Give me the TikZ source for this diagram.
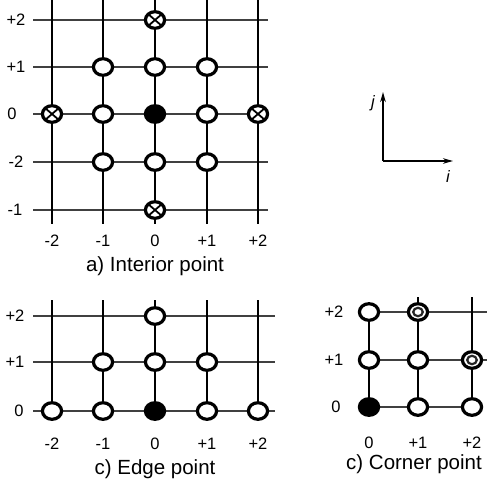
\documentclass[tikz,border=0pt]{standalone}
\usepackage{fontspec}
\setmainfont{Liberation Sans}
\usetikzlibrary{shapes.geometric,arrows.meta}
\tikzset{
  vline/.style={line width=2.1pt,black},
  hline/.style={line width=1.4pt,black!75},
  ocirc/.style={ellipse,draw,line width=3.2pt,fill=white,minimum width=19.2pt,minimum height=16.6pt,inner sep=0pt},
  fcirc/.style={ocirc,fill=black},
  xcirc/.style={ocirc,path picture={
     \draw[line width=1.8pt] (path picture bounding box.north west) -- (path picture bounding box.south east)
       (path picture bounding box.north east) -- (path picture bounding box.south west);}},
  rcirc/.style={ocirc,path picture={
     \draw[line width=2.2pt,black!85] (path picture bounding box.center) ellipse (4.8pt and 4.2pt);}},
  lab/.style={font=\fontsize{16.5}{18}\selectfont,inner sep=0pt},
  captext/.style={font=\fontsize{20.5}{24}\selectfont,inner sep=0pt,anchor=base},
  axarrow/.style={line width=2.2pt,-{Stealth[length=10pt,width=5.5pt]}},
}
\begin{document}
\begin{tikzpicture}[x=1pt,y=-1pt]
\useasboundingbox (0,0) rectangle (487,487);
% ---------- panel a ----------
\foreach \y in {20,67,114,162,210} \draw[hline] (33,\y) -- (268,\y);
\foreach \x in {52,103,155,207,258} \draw[vline] (\x,0) -- (\x,224);
\node[xcirc] (a02) at (155,20) {};
\node[ocirc] (am11) at (103,67) {};
\node[ocirc] (a01) at (155,67) {};
\node[ocirc] (ap11) at (207,67) {};
\node[xcirc] (am20) at (52,114) {};
\node[ocirc] (am10) at (103,114) {};
\node[fcirc] (a00) at (155,114) {};
\node[ocirc] (ap10) at (207,114) {};
\node[xcirc] (ap20) at (258,114) {};
\node[ocirc] (am1m2) at (103,162) {};
\node[ocirc] (a0m2) at (155,162) {};
\node[ocirc] (ap1m2) at (207,162) {};
\node[xcirc] (a0m1) at (155,210) {};
\node[lab] (ar1) at (16,20) {+2};
\node[lab] (ar2) at (16,67) {+1};
\node[lab] (ar3) at (12,114) {0};
\node[lab] (ar4) at (16,162) {-2};
\node[lab] (ar5) at (15,210) {-1};
\node[lab] (ac1) at (52,241) {-2};
\node[lab] (ac2) at (103,241) {-1};
\node[lab] (ac3) at (155,241) {0};
\node[lab] (ac4) at (207,241) {+1};
\node[lab] (ac5) at (258,241) {+2};
\node[captext] (acap) at (155,271) {a) Interior point};
% ---------- axes ----------
\coordinate (o) at (383,161);
\coordinate (jt) at (383,92);
\coordinate (it) at (453,161);
\draw[axarrow] (o) -- (jt);
\draw[axarrow] (o) -- (it);
\node[lab,font=\fontsize{16.5}{18}\selectfont\itshape] (jl) at (373,103) {j};
\node[lab,font=\fontsize{16.5}{18}\selectfont\itshape] (il) at (448,177) {i};
% ---------- edge panel ----------
\foreach \y in {316,362,411} \draw[hline] (33,\y) -- (275,\y);
\foreach \x in {52,103,155,207,258} \draw[vline] (\x,300) -- (\x,411);
\node[ocirc] (e02) at (155,316) {};
\node[ocirc] (em11) at (103,362) {};
\node[ocirc] (e01) at (155,362) {};
\node[ocirc] (ep11) at (207,362) {};
\node[ocirc] (em20) at (52,411) {};
\node[ocirc] (em10) at (103,411) {};
\node[fcirc] (e00) at (155,411) {};
\node[ocirc] (ep10) at (207,411) {};
\node[ocirc] (ep20) at (258,411) {};
\node[lab] (er1) at (15,316) {+2};
\node[lab] (er2) at (15,362) {+1};
\node[lab] (er3) at (19,411) {0};
\node[lab] (ec1) at (52,444) {-2};
\node[lab] (ec2) at (103,444) {-1};
\node[lab] (ec3) at (155,444) {0};
\node[lab] (ec4) at (207,444) {+1};
\node[lab] (ec5) at (258,444) {+2};
\node[captext] (ecap) at (155,474) {c) Edge point};
% ---------- corner panel ----------
\draw[hline] (369,312) -- (487,312);
\draw[hline] (369,360) -- (487,360);
\draw[hline] (369,407) -- (472,407);
\draw[vline] (369,312) -- (369,407);
\draw[vline] (418,297) -- (418,407);
\draw[vline] (472,297) -- (472,407);
\node[ocirc] (c02) at (369,312) {};
\node[rcirc] (c12) at (418,312) {};
\node[ocirc] (c01) at (369,360) {};
\node[ocirc] (c11) at (418,360) {};
\node[rcirc] (c21) at (472,360) {};
\node[fcirc] (c00) at (369,407) {};
\node[ocirc] (c10) at (418,407) {};
\node[ocirc] (c20) at (472,407) {};
\node[lab] (cr1) at (334,312) {+2};
\node[lab] (cr2) at (334,360) {+1};
\node[lab] (cr3) at (336,407) {0};
\node[lab] (cc1) at (369,443) {0};
\node[lab] (cc2) at (418,443) {+1};
\node[lab] (cc3) at (472,443) {+2};
\node[captext] (ccap) at (414,469) {c) Corner point};
\end{tikzpicture}
\end{document}
